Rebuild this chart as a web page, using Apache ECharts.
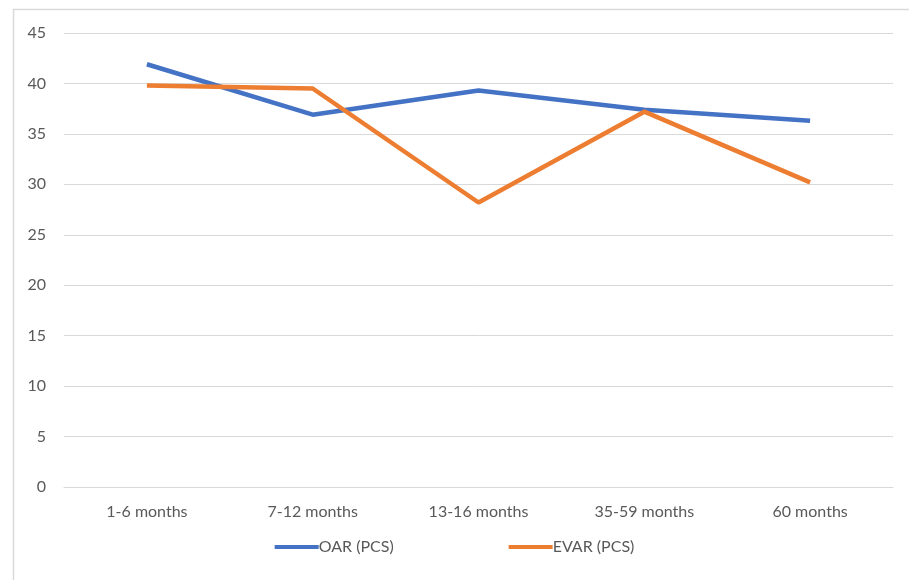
<!DOCTYPE html>
<html><head><meta charset="utf-8">
<script src="https://cdn.jsdelivr.net/npm/echarts@6/dist/echarts.min.js"></script>
<style>html,body{margin:0;padding:0;background:#fff}#c{width:909px;height:580px}</style>
</head><body><div id="c"></div>
<script>
const categories = ['1-6 months','7-12 months','13-16 months','35-59 months','60 months'];
const oarValues = [41.9, 36.9, 39.3, 37.4, 36.3];
const evarValues = [39.8, 39.5, 28.2, 37.2, 30.2];
const seriesNames = ['OAR (PCS)', 'EVAR (PCS)'];
const font = 'Lato, "Liberation Sans", sans-serif';
const chart = echarts.init(document.getElementById('c'));
chart.setOption({
  animation: false,
  graphic: [{type:'rect', shape:{x:13.5,y:9.5,width:1000,height:1000}, style:{fill:'none', stroke:'#d9d9d9', lineWidth:1.5}, z:-1}],
  grid: {left:64, right:16, top:33, bottom:93},
  legend: {
    bottom: 20, left: 'center', itemGap: 115, itemWidth: 44, itemHeight: 4,
    icon: 'rect',
    textStyle: {fontFamily: font, fontSize: 16, color: '#595959', padding:[0,0,0,-5]},
    data: seriesNames
  },
  xAxis: {
    type: 'category', data: categories, boundaryGap: true,
    axisLine: {show: true, lineStyle: {color: '#d9d9d9'}},
    axisTick: {show: false},
    axisLabel: {fontFamily: font, fontSize: 16, color: '#595959', margin: 17},
    splitLine: {show: false}
  },
  yAxis: {
    type: 'value', min: 0, max: 45, interval: 5,
    axisLine: {show: false}, axisTick: {show: false},
    axisLabel: {fontFamily: font, fontSize: 16, color: '#595959', margin: 18},
    splitLine: {lineStyle: {color: '#d9d9d9', width: 1}}
  },
  series: [
    {name: seriesNames[0], type: 'line', data: oarValues, symbol: 'none', lineStyle: {color: '#4472C4', width: 4.5}, itemStyle:{color:'#4472C4'}},
    {name: seriesNames[1], type: 'line', data: evarValues, symbol: 'none', lineStyle: {color: '#ED7D31', width: 4.5}, itemStyle:{color:'#ED7D31'}}
  ]
});
</script></body></html>
